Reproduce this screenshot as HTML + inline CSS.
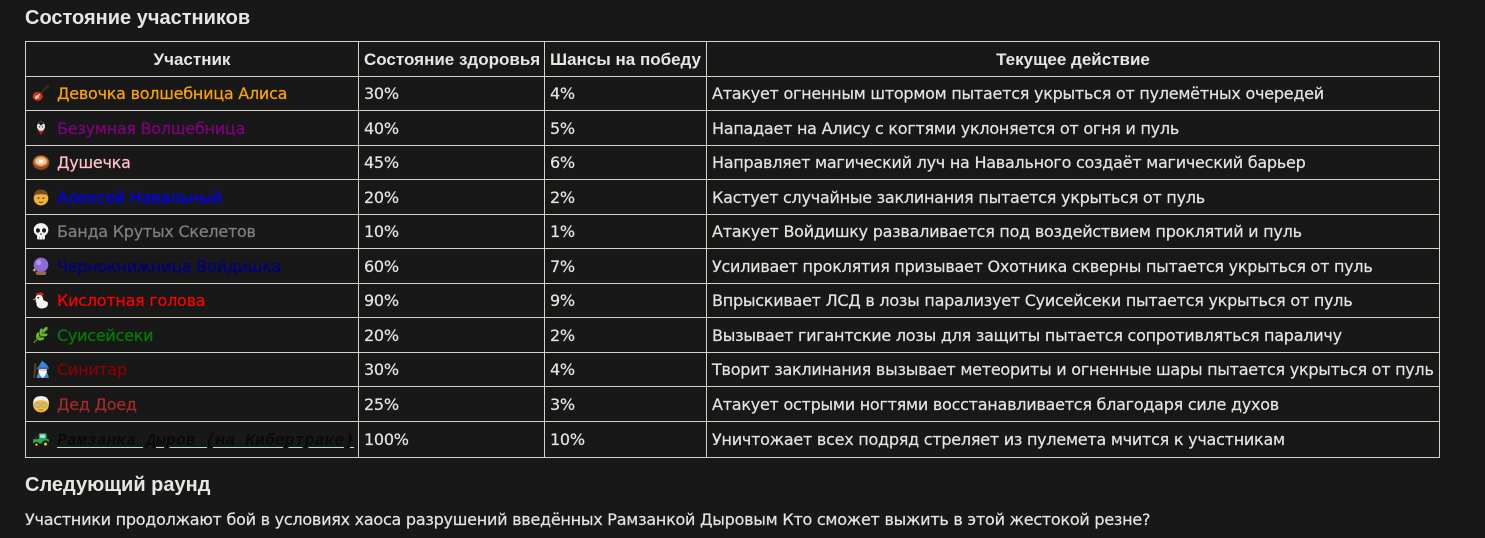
<!DOCTYPE html>
<html lang="ru">
<head>
<meta charset="utf-8">
<style>
  html,body{margin:0;padding:0;}
  body{width:1485px;height:538px;overflow:hidden;position:relative;background:#181818;color:#e6e4df;
       font-family:"DejaVu Sans","Liberation Sans",sans-serif;font-size:16px;letter-spacing:-0.25px;}
  .h{position:absolute;left:25px;font-family:"Liberation Sans",sans-serif;font-weight:bold;font-size:20px;line-height:22px;white-space:nowrap;color:#e8e6e1;letter-spacing:0;}
  .p{position:absolute;left:25px;top:510px;line-height:20px;white-space:nowrap;-webkit-text-stroke:0.2px #e6e4df;}
  table{position:absolute;left:25px;top:41px;width:1414px;border-collapse:collapse;table-layout:fixed;}
  td,th{border:1px solid #d6d2c4;padding:2px 5px 0 5px;white-space:nowrap;overflow:visible;vertical-align:middle;line-height:20px;}
  td{-webkit-text-stroke:0.2px currentColor;}
  th{font-family:"Liberation Sans",sans-serif;font-weight:bold;font-size:17px;text-align:center;color:#e8e6e1;letter-spacing:0;}
  th.l{text-align:left;}
  tr{height:34.5px;}
  tr.last{height:36.7px;}
  svg{display:inline-block;vertical-align:middle;width:18px;height:18px;margin:-3px 7px 0 1px;}
  .mono{font-family:"Liberation Mono",monospace;font-weight:bold;font-style:italic;font-size:16.5px;color:#0a0a0a;letter-spacing:0;-webkit-text-stroke:0;
        text-decoration:underline;text-decoration-color:#b4e2c4;text-underline-offset:2px;}
</style>
</head>
<body>
<div class="h" style="top:7px;">Состояние участников</div>

<table>
<colgroup><col style="width:333px"><col style="width:186px"><col style="width:162px"><col style="width:733px"></colgroup>
<tr><th>Участник</th><th class="l">Состояние здоровья</th><th class="l">Шансы на победу</th><th>Текущее действие</th></tr>

<tr><td><svg viewBox="0 0 16 16"><line x1="6" y1="10" x2="14" y2="2" stroke="#3a2a20" stroke-width="2"/><rect x="12.5" y="0.5" width="3" height="3" fill="#2a2a2a"/><ellipse cx="5" cy="11" rx="4.5" ry="4" fill="#c8341c"/><ellipse cx="4.5" cy="11.5" rx="2" ry="1.6" fill="#f0a070"/><line x1="3" y1="13" x2="7" y2="9" stroke="#fff" stroke-width="0.8"/></svg><span style="color:#ffa500">Девочка волшебница Алиса</span></td><td>30%</td><td>4%</td><td>Атакует огненным штормом пытается укрыться от пулемётных очередей</td></tr>

<tr><td><svg viewBox="0 0 16 16"><path d="M1 16 L3 9 L8 11 L13 9 L15 16 Z" fill="#1a1a1a"/><path d="M5 10 L8 14 L11 10 Z" fill="#c81a2a"/><ellipse cx="8" cy="6.5" rx="3.6" ry="4.2" fill="#ece6e6"/><path d="M4.2 5 Q8 0 11.8 5 L10 4 L8 6 L6 4 Z" fill="#1a1a1a"/><circle cx="6.7" cy="7" r="0.6" fill="#222"/><circle cx="9.3" cy="7" r="0.6" fill="#222"/></svg><span style="color:#800080">Безумная Волшебница</span></td><td>40%</td><td>5%</td><td>Нападает на Алису с когтями уклоняется от огня и пуль</td></tr>

<tr><td><svg viewBox="0 0 16 16"><ellipse cx="8" cy="8.5" rx="7.5" ry="6.5" fill="#8a4a1c"/><ellipse cx="8" cy="7.5" rx="6.5" ry="5" fill="#c47a3a"/><ellipse cx="8" cy="7.5" rx="5" ry="3.6" fill="#f0c89a"/><ellipse cx="8" cy="7.5" rx="2" ry="1.3" fill="#fff8ea"/></svg><span style="color:#ffc0cb">Душечка</span></td><td>45%</td><td>6%</td><td>Направляет магический луч на Навального создаёт магический барьер</td></tr>

<tr><td><svg viewBox="0 0 16 16"><circle cx="8" cy="9" r="6.5" fill="#f2b33a"/><path d="M1.6 8 Q2 1 8 1.5 Q14 1 14.4 8 L13 6 Q8 5 3 6 Z" fill="#7a4a1e"/><circle cx="5.8" cy="9" r="0.8" fill="#5a3a1a"/><circle cx="10.2" cy="9" r="0.8" fill="#5a3a1a"/><path d="M6 12.3 Q8 13.5 10 12.3" stroke="#7a4a1e" stroke-width="0.9" fill="none"/></svg><span style="color:#0000ff">Алексей Навальный</span></td><td>20%</td><td>2%</td><td>Кастует случайные заклинания пытается укрыться от пуль</td></tr>

<tr><td><svg viewBox="0 0 16 16"><ellipse cx="8" cy="7" rx="6.5" ry="6" fill="#f4f4f4"/><rect x="4.5" y="10.5" width="7" height="5" rx="1" fill="#f4f4f4"/><ellipse cx="5.3" cy="7.5" rx="1.8" ry="2" fill="#1a1a1a"/><ellipse cx="10.7" cy="7.5" rx="1.8" ry="2" fill="#1a1a1a"/><rect x="7.5" y="10" width="1" height="1.5" fill="#1a1a1a"/><line x1="6.5" y1="13" x2="6.5" y2="15.5" stroke="#999" stroke-width="0.6"/><line x1="9.5" y1="13" x2="9.5" y2="15.5" stroke="#999" stroke-width="0.6"/></svg><span style="color:#808080">Банда Крутых Скелетов</span></td><td>10%</td><td>1%</td><td>Атакует Войдишку разваливается под воздействием проклятий и пуль</td></tr>

<tr><td><svg viewBox="0 0 16 16"><circle cx="8" cy="7" r="6.5" fill="#8c6ad8"/><circle cx="6" cy="5" r="2.2" fill="#b49af0"/><path d="M3 13 L13 13 L12 16 L4 16 Z" fill="#9a6a44"/><path d="M2 10 L2.6 11.2 L3.8 11.6 L2.6 12 L2 13.2 L1.4 12 L0.2 11.6 L1.4 11.2 Z" fill="#ffe060"/></svg><span style="color:#000080">Чернокнижница Войдишка</span></td><td>60%</td><td>7%</td><td>Усиливает проклятия призывает Охотника скверны пытается укрыться от пуль</td></tr>

<tr><td><svg viewBox="0 0 16 16"><path d="M4 4 Q3 1 6 2 Q7 0 9 2 Q11 1 10 4 Z" fill="#e02020"/><path d="M3 7 Q3 3 7 3.5 Q10 4 10 8 L14 10 Q15 15 9 15.5 Q4 15.5 4 11 Z" fill="#f6f6f6"/><path d="M2.5 6.5 L0.5 7.5 L2.5 8.3 Z" fill="#f0a020"/><circle cx="5.5" cy="6" r="0.8" fill="#222"/><path d="M3 8.5 Q2.5 10.5 3.8 10" fill="#e02020"/></svg><span style="color:#ff0000">Кислотная голова</span></td><td>90%</td><td>9%</td><td>Впрыскивает ЛСД в лозы парализует Суисейсеки пытается укрыться от пуль</td></tr>

<tr><td><svg viewBox="0 0 16 16"><line x1="1.5" y1="15" x2="14" y2="2" stroke="#4e8a1e" stroke-width="1.2"/><ellipse cx="11.5" cy="3" rx="3" ry="1.3" transform="rotate(-45 11.5 3)" fill="#6cb830"/><ellipse cx="8" cy="5" rx="3" ry="1.3" transform="rotate(-80 8 5)" fill="#6cb830"/><ellipse cx="11" cy="8" rx="3" ry="1.3" transform="rotate(-10 11 8)" fill="#6cb830"/><ellipse cx="5" cy="8.5" rx="3" ry="1.3" transform="rotate(-80 5 8.5)" fill="#6cb830"/><ellipse cx="8" cy="11.5" rx="3" ry="1.3" transform="rotate(-10 8 11.5)" fill="#6cb830"/></svg><span style="color:#008000">Суисейсеки</span></td><td>20%</td><td>2%</td><td>Вызывает гигантские лозы для защиты пытается сопротивляться параличу</td></tr>

<tr><td><svg viewBox="0 0 16 16"><line x1="3" y1="3" x2="2" y2="16" stroke="#6a3e1a" stroke-width="1.6"/><path d="M5 7 L9 0.5 L13 4 L15 7 Z" fill="#3c86d6"/><rect x="4" y="6.5" width="11" height="1.8" fill="#2a6ab8"/><rect x="6" y="8" width="7" height="4" fill="#f2c49a"/><path d="M5.5 9.5 L13.5 9.5 L12.5 14 L9.5 16 L6.5 14 Z" fill="#f4f4f4"/><path d="M4 16 L5 12 L14 12 L15 16 Z" fill="#3c86d6"/><path d="M6.5 13 L9.5 16 L12.5 13 L11 11 L8 11 Z" fill="#f4f4f4"/></svg><span style="color:#8b0000">Синитар</span></td><td>30%</td><td>4%</td><td>Творит заклинания вызывает метеориты и огненные шары пытается укрыться от пуль</td></tr>

<tr><td><svg viewBox="0 0 16 16"><circle cx="8" cy="8.5" r="7" fill="#f4bd3c"/><path d="M1 8.5 Q0.5 1 8 1 Q15.5 1 15 8.5 Q14 4.5 8 4.5 Q2 4.5 1 8.5 Z" fill="#f2f2f2"/><circle cx="5.3" cy="9" r="2" fill="none" stroke="#9aa0aa" stroke-width="0.9"/><circle cx="10.7" cy="9" r="2" fill="none" stroke="#9aa0aa" stroke-width="0.9"/><path d="M6 13 Q8 14 10 13" stroke="#a0641e" stroke-width="0.8" fill="none"/></svg><span style="color:#a52a2a">Дед Доед</span></td><td>25%</td><td>3%</td><td>Атакует острыми ногтями восстанавливается благодаря силе духов</td></tr>

<tr class="last"><td><svg viewBox="0 0 16 16"><rect x="6" y="3" width="7" height="5.5" rx="1" fill="#2ea84a"/><rect x="7.2" y="4" width="4.5" height="3" fill="#a8e0ff"/><rect x="1" y="8" width="14" height="4" rx="1" fill="#2ea84a"/><rect x="3" y="5" width="1.2" height="3.5" fill="#333"/><circle cx="4" cy="13" r="2.5" fill="#1a1a1a"/><circle cx="12" cy="12.5" r="3.3" fill="#1a1a1a"/><circle cx="12" cy="12.5" r="1.3" fill="#f0d030"/><circle cx="4" cy="13" r="1" fill="#f0d030"/></svg><span class="mono">Рамзанка Дыров (на Кибертраке)</span></td><td>100%</td><td>10%</td><td>Уничтожает всех подряд стреляет из пулемета мчится к участникам</td></tr>
</table>

<div class="h" style="top:474px;">Следующий раунд</div>
<div class="p">Участники продолжают бой в условиях хаоса разрушений введённых Рамзанкой Дыровым Кто сможет выжить в этой жестокой резне?</div>
</body>
</html>
